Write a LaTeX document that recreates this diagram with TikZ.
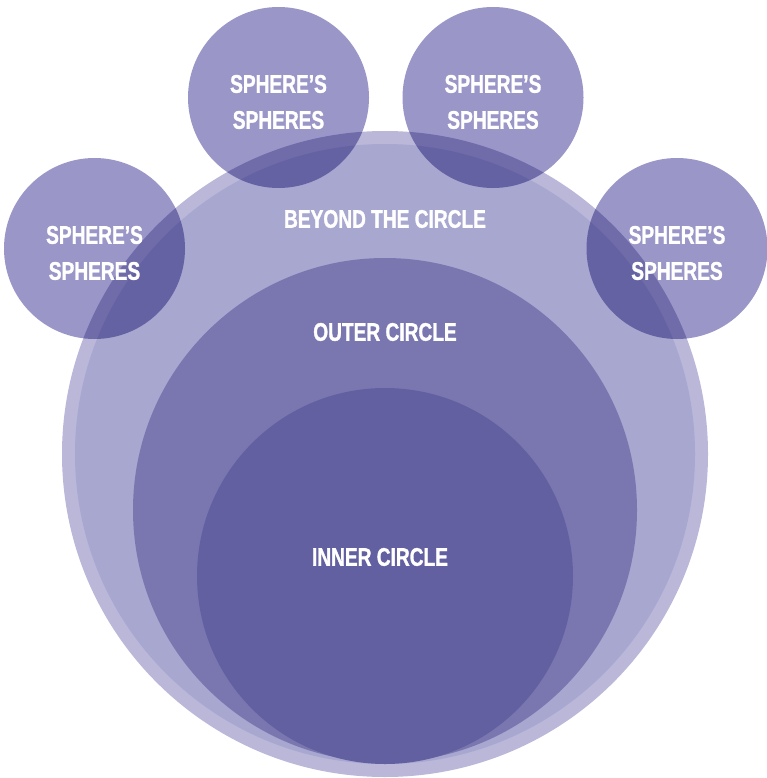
\documentclass[tikz,border=0pt]{standalone}
\usepackage{fontspec}
\newfontfamily\lblfont{Liberation Sans}[FakeStretch=0.75,BoldFeatures={FakeBold=1.2}]
\definecolor{ringc}{HTML}{BAB7D9}
\definecolor{beyondc}{HTML}{A8A7D0}
\definecolor{outerc}{HTML}{7A77B0}
\definecolor{innerc}{HTML}{6260A0}
\definecolor{spherec}{HTML}{9A97C8}
\tikzset{
  disc/.style={circle, draw=none, inner sep=0pt, outer sep=0pt},
  lbl/.style={text=white, font=\lblfont\bfseries\fontsize{25.5}{36}\selectfont, align=center, inner sep=0pt},
}
\begin{document}
\begin{tikzpicture}[x=1pt,y=-1pt]
\useasboundingbox (0,0) rectangle (767,778);
\node[disc, fill=ringc, minimum size=646pt] (ring) at (385,454) {};
\node[disc, fill=beyondc, minimum size=620pt] (beyond) at (385,454) {};
\node[disc, fill=outerc, minimum size=504pt] (outer) at (385,510) {};
\node[disc, fill=innerc, minimum size=376pt] (inner) at (385,576) {};
\begin{scope}[blend mode=multiply]
\node[disc, fill=spherec, minimum size=181pt] (s1) at (278.5,97.5) {};
\node[disc, fill=spherec, minimum size=181pt] (s2) at (493,97.5) {};
\node[disc, fill=spherec, minimum size=181pt] (s3) at (94.5,248.5) {};
\node[disc, fill=spherec, minimum size=181pt] (s4) at (677,248.5) {};
\end{scope}
\node[lbl] (t1) at (278.5,102) {SPHERE’S\\SPHERES};
\node[lbl] (t2) at (493,102) {SPHERE’S\\SPHERES};
\node[lbl] (t3) at (94.5,253) {SPHERE’S\\SPHERES};
\node[lbl] (t4) at (677,253) {SPHERE’S\\SPHERES};
\node[lbl] (tb) at (385,219) {BEYOND THE CIRCLE};
\node[lbl] (to) at (385,332) {OUTER CIRCLE};
\node[lbl] (ti) at (380,557) {INNER CIRCLE};
\end{tikzpicture}
\end{document}
